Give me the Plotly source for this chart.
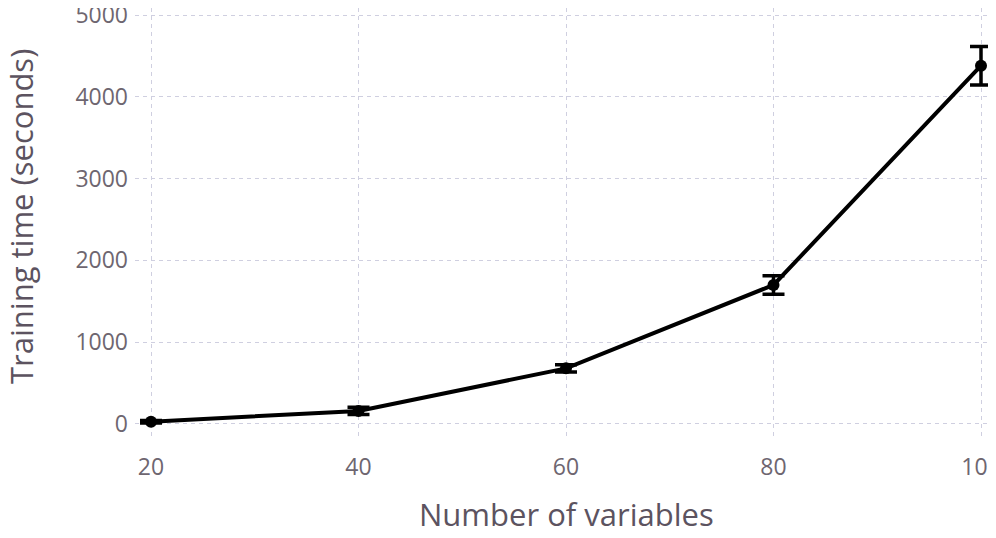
import plotly.graph_objects as go

n_vars = [20, 40, 60, 80, 100]
train_time = [28, 160, 680, 1700, 4380]
train_err = [15, 45, 45, 113, 235]

x_ticks = [20, 40, 60, 80, 100]
y_ticks = [0, 1000, 2000, 3000, 4000, 5000]

grid = "#cfcfe0"
tick_col = "#6e6670"
title_col = "#5c5360"

fig = go.Figure()
fig.add_trace(
    go.Scatter(
        x=n_vars,
        y=train_time,
        mode="lines+markers",
        line=dict(color="black", width=4),
        marker=dict(size=12, color="black"),
        error_y=dict(type="data", array=train_err, color="black", thickness=3.5, width=11),
        showlegend=False,
        cliponaxis=False,
    )
)
# axis titles as annotations so they can sit right at the figure edge
fig.add_annotation(
    text="Number of variables", xref="paper", yref="paper", x=0.496, y=0,
    xanchor="center", yanchor="middle", yshift=-78, showarrow=False,
    font=dict(size=31, color=title_col),
)
fig.add_annotation(
    text="Training time (seconds)", xref="paper", yref="paper", x=0, y=0.5117,
    xanchor="center", yanchor="middle", xshift=-114, textangle=-90, showarrow=False,
    borderpad=0, font=dict(size=31, color=title_col),
)
fig.update_layout(
    width=996,
    height=530,
    margin=dict(l=127, r=0, t=0, b=102),
    paper_bgcolor="white",
    plot_bgcolor="white",
    font=dict(family="Open Sans", color=tick_col),
    xaxis=dict(
        range=[18.458, 102.217],
        tickvals=x_ticks,
        showgrid=True,
        gridcolor=grid,
        griddash="4px,4px",
        gridwidth=1,
        zeroline=False,
        showline=False,
        tickfont=dict(size=23, color=tick_col),
        ticklabelstandoff=15,
        ticklabeloverflow="allow",
        automargin=False,
    ),
    yaxis=dict(
        range=[-147, 5086],
        tickvals=y_ticks,
        showgrid=True,
        gridcolor=grid,
        griddash="4px,4px",
        gridwidth=1,
        zeroline=False,
        showline=False,
        tickfont=dict(size=23, color=tick_col),
        ticklabelstandoff=6,
        ticklabeloverflow="allow",
        automargin=False,
    ),
)
fig.write_html("out.html")
